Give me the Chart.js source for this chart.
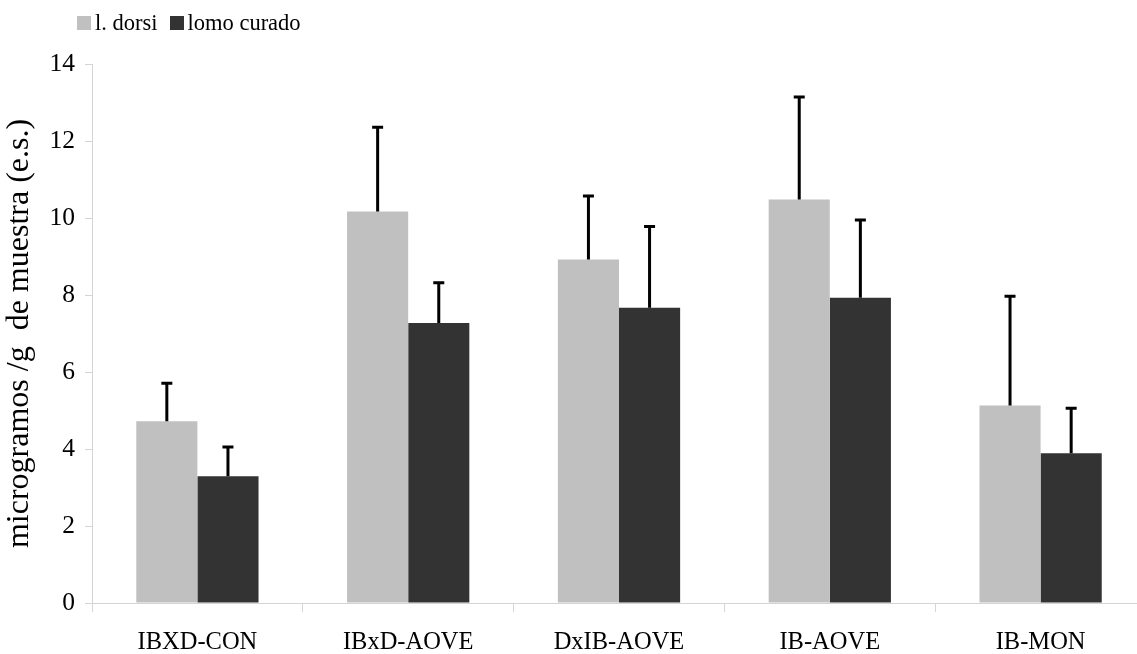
<!DOCTYPE html>
<html>
<head>
<meta charset="utf-8">
<script src="https://cdn.jsdelivr.net/npm/chart.js@4/dist/chart.umd.min.js"></script>
<style>
  html, body { margin: 0; padding: 0; background: #fff; overflow: hidden; }
  #wrap { position: relative; width: 1137px; height: 654px; overflow: hidden; }
  #box { position: absolute; left: 0; top: 0; width: 1150px; height: 654px; }
  #legend { position: absolute; left: 77px; top: 10px; font-family: "Liberation Serif", "Times New Roman", serif; font-size: 22.5px; color: #000; display: flex; align-items: center; white-space: nowrap; }
  #legend .sw { display: inline-block; width: 14px; height: 14px; margin-right: 4px; }
  #legend .item { display: flex; align-items: center; margin-right: 12px; }
</style>
</head>
<body>
<div id="wrap">
  <div id="box"><canvas id="c" width="1150" height="654"></canvas></div>
  <div id="legend"></div>
</div>
<script>
const categories = ["IBXD-CON", "IBxD-AOVE", "DxIB-AOVE", "IB-AOVE", "IB-MON"];
const seriesNames = ["l. dorsi", "lomo curado"];
const lDorsi = [4.72, 10.17, 8.92, 10.48, 5.13];
const lDorsiErr = [0.99, 2.19, 1.65, 2.66, 2.84];
const lomoCurado = [3.29, 7.27, 7.67, 7.93, 3.89];
const lomoCuradoErr = [0.76, 1.05, 2.11, 2.02, 1.17];
const seriesColors = ["#C0C0C0", "#333333"];
const yTitle = "microgramos /g  de muestra (e.s.)";

const FONT = "'Liberation Serif', 'Times New Roman', serif";

// HTML legend
const lg = document.getElementById('legend');
seriesNames.forEach((n, i) => {
  const it = document.createElement('span'); it.className = 'item';
  const sw = document.createElement('span'); sw.className = 'sw'; sw.style.background = seriesColors[i];
  const tx = document.createElement('span'); tx.textContent = n;
  it.appendChild(sw); it.appendChild(tx); lg.appendChild(it);
});

const errorBars = {
  id: 'errorBars',
  afterDatasetsDraw(chart) {
    const ctx = chart.ctx;
    const y = chart.scales.y;
    chart.data.datasets.forEach((ds, di) => {
      const meta = chart.getDatasetMeta(di);
      meta.data.forEach((bar, i) => {
        const v = ds.data[i], e = ds.errors[i];
        const x = bar.x;
        const yTop = y.getPixelForValue(v + e);
        const yBase = y.getPixelForValue(v);
        ctx.save();
        ctx.strokeStyle = '#000';
        ctx.lineWidth = 3;
        ctx.beginPath();
        ctx.moveTo(x, yBase);
        ctx.lineTo(x, yTop);
        ctx.moveTo(x - 5.5, yTop);
        ctx.lineTo(x + 5.5, yTop);
        ctx.stroke();
        ctx.restore();
      });
    });
  }
};

new Chart(document.getElementById('c'), {
  type: 'bar',
  data: {
    labels: categories,
    datasets: [
      { label: seriesNames[0], data: lDorsi, errors: lDorsiErr, backgroundColor: seriesColors[0], borderWidth: 0 },
      { label: seriesNames[1], data: lomoCurado, errors: lomoCuradoErr, backgroundColor: seriesColors[1], borderWidth: 0 }
    ]
  },
  options: {
    responsive: false,
    animation: false,
    devicePixelRatio: 1,
    layout: { padding: { top: 64, left: 0, right: 4, bottom: 0 } },
    datasets: { bar: { categoryPercentage: 0.58, barPercentage: 1.0 } },
    plugins: { legend: { display: false }, tooltip: { enabled: false } },
    scales: {
      x: {
        afterFit(s) { s.height = 51; },
        grid: { offset: true, drawOnChartArea: false, drawTicks: true, tickLength: 9, color: '#D4D4D4' },
        border: { display: true, color: '#D4D4D4', width: 1 },
        ticks: { color: '#000', font: { family: FONT, size: 24.5 }, padding: 16, maxRotation: 0 }
      },
      y: {
        min: 0, max: 14,
        afterFit(s) { s.width = 92; },
        grid: { drawOnChartArea: false, drawTicks: true, tickLength: 7, color: '#D4D4D4' },
        border: { display: true, color: '#D4D4D4', width: 1 },
        ticks: { stepSize: 2, color: '#000', font: { family: FONT, size: 25.5 }, padding: 10 },
        title: { display: true, text: yTitle, color: '#000', font: { family: FONT, size: 32 }, padding: { top: 0, bottom: 0 } }
      }
    }
  },
  plugins: [errorBars]
});
</script>
</body>
</html>
